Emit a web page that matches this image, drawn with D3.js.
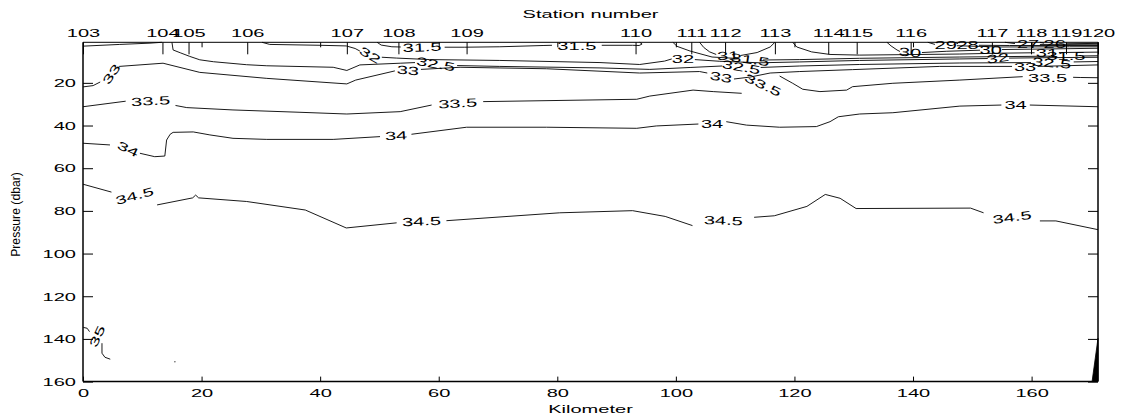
<!DOCTYPE html>
<html><head><meta charset="utf-8">
<script src="https://cdn.jsdelivr.net/npm/d3@7"></script>
<style>
body{margin:0;background:#fff;}
svg{display:block;font-family:"Liberation Sans",Arial,Helvetica,sans-serif;}
</style></head><body>
<svg id="chart" width="1127" height="416"></svg>
<script>
// ---------- axis data ----------
const kmTicks=[0,20,40,60,80,100,120,140,160];
const pressureTicks=[20,40,60,80,100,120,140,160];
const stationNames=["103","104","105","106","107","108","109","110","111","112","113","114","115","116","117","118","119","120"];
const stationKm=[0,13.4,17.8,27.7,44.5,53.2,64.7,93.2,102.6,108.3,116.7,125.7,130.5,139.6,153.3,159.9,165.8,171.2];
const kmMax=171.2, pTop=1, pBottom=160;

// ---------- salinity contours: pieces of [km, dbar]; labels [km, dbar, angle] ----------
const s34_5=[
 [[0,67.5],[4.8,71.2]],
 [[12.5,77.2],[18.5,73.9],[19.0,72.6],[19.5,73.9],[27.6,75.6],[37.5,79.6],[44.4,88.0],[52.9,85.6]],
 [[61.3,84.6],[80.4,80.9],[92.7,79.9],[98.2,82.6],[102.8,86.9]],
 [[113.2,83.0],[116.6,82.3],[122.1,77.9],[125.2,72.3],[127.7,74.1],[130.4,78.9],[149.7,78.7],[151.9,80.9]],
 [[161.4,84.7],[164.1,84.7],[171.2,88.8]]];
const l34_5=[[8.7,73.0,-15],[57.1,84.9,-2],[108.0,84.5,2],[156.7,83.0,-8]];

const s34=[
 [[0,48.3],[4.55,49.1]],
 [[9.6,53.0],[12.1,54.6],[13.8,54.3],[14.1,46.8],[14.7,44.1],[15.2,43.2],[18.6,43.0],[21.4,44.4],[25.3,46.0],[31.0,46.5],[42.2,46.5],[50.1,45.2]],
 [[55.4,44.1],[64.7,40.8],[78.2,40.8],[93.4,41.3],[96.7,40.2],[103.8,39.3]],
 [[108.5,38.2],[111.9,39.8],[117.5,40.8],[123.7,40.5],[126.0,38.2],[127.4,35.9],[131.0,34.6],[136.6,34.0],[147.9,30.9],[154.9,30.4]],
 [[159.7,30.4],[171.2,31.2]]];
const l34=[[7.6,51.0,25],[52.8,44.7,-3],[106.1,39.0,0],[157.3,30.4,0]];

const s33_5=[
 [[0,31.2],[7.2,28.6]],
 [[15.6,30.6],[17.5,31.6],[25.3,32.7],[36.6,33.8],[44.5,34.6],[53.5,33.5],[58.8,30.4]],
 [[67.5,28.8],[93.4,27.7],[95.6,26.2],[102.9,23.4],[106.3,24.1],[111.1,24.9]],
 [[117.5,16.8],[119.7,20.2],[121.4,23.0],[124.3,24.1],[128.8,23.4],[129.8,21.8],[136.6,20.2],[147.9,18.7],[158.5,17.1]],
 [[167.0,17.4],[168.3,17.5],[171.2,17.6]]];
const l33_5=[[11.4,28.5,-3],[63.2,29.6,-3],[114.7,21.0,25],[162.7,17.5,0]];

const s33=[
 [[0,21.9],[1.7,21.3],[2.9,19.6]],
 [[6.1,12.3],[13.5,10.8],[19.7,15.1],[31.0,17.9],[44.5,20.5],[46.0,18.7],[52.6,14.4]],
 [[57.0,13.7],[63.6,12.7],[78.2,13.4],[93.9,15.4],[104.0,14.7],[105.3,15.4]],
 [[109.8,18.2],[112.5,17.3],[115.9,15.4],[120.9,14.7],[129.8,13.8],[144.5,12.3],[156.7,12.3]],
 [[161.0,12.3],[171.2,11.6]]];
const l33=[[4.8,15.9,-55],[54.8,14.2,5],[107.6,17.3,10],[158.9,12.6,0]];

const s32_5=[
 [[15.0,1.0],[15.2,4.6],[16.4,5.9],[18.0,7.6],[19.7,9.2],[22.0,10.1],[27.6,11.5],[31.0,12.0],[42.2,12.7],[44.5,14.2],[46.7,11.6],[53.5,10.8],[56.0,10.5]],
 [[63.1,11.9],[70.3,12.3],[87.2,13.0],[95.6,13.7],[102.4,12.8],[107.8,12.1]],
 [[114.3,12.8],[120.9,12.1],[131.0,11.4],[147.9,10.7],[159.9,10.5]],
 [[167.1,10.2],[171.2,10.0]]];
const l32_5=[[59.5,11.2,10],[111.0,12.6,10],[163.4,10.7,5]];

const s32_5w=[[[0,2.8],[6.2,2.0],[11.3,1.4],[13.3,1.0]]];
const l32_5w=[];

const s32=[
 [[30.2,1.0],[31.5,2.0],[40.0,2.4],[44.4,2.7],[45.9,3.9],[46.7,5.1]],
 [[50.4,8.0],[52.9,8.4],[58.5,9.1],[70.3,9.5],[87.2,10.5],[93.9,11.4],[98.1,9.8],[99.3,8.8]],
 [[103.2,9.1],[107.4,9.9],[114.2,10.6],[120.9,10.2],[131.0,9.5],[147.9,8.8],[152.6,8.6]],
 [[156.2,8.4],[163.1,8.2],[171.2,8.0]]];
const l32=[[48.4,7.0,30],[101.2,8.6,0],[154.3,8.4,-8]];

const s31_5=[
 [[49.6,1.0],[50.3,2.3],[52.1,3.1],[53.6,3.2]],
 [[61.0,3.3],[64.4,3.3],[70.3,3.1],[77.6,2.5],[79.1,2.4]],
 [[87.5,2.4],[92.7,2.4],[93.8,2.5],[94.3,1.8],[93.9,1.0]]];
const l31_5=[[57.2,3.3,-2],[83.3,2.9,0]];

const s31_5e=[
 [[99.5,1.0],[100.2,2.9],[102.4,5.1],[106.1,7.9],[110.5,8.6]],
 [[114.7,9.3],[120.9,9.1],[131.0,8.5],[147.9,7.9],[163.1,7.5]],
 [[168.5,7.4],[171.2,7.3]]];
const l31_5e=[[112.5,9.1,8],[165.8,7.5,0]];

const s31a=[
 [[104.0,1.0],[104.7,3.4],[105.7,5.5],[106.8,6.7]],
 [[110.9,7.2],[113.7,5.8],[115.9,3.2],[116.7,1.0]]];
const l31a=[[108.8,7.2,-3]];

const s31b=[
 [[119.7,1.0],[120.4,3.2],[122.9,5.5],[126.0,6.7],[131.0,7.0],[137.8,6.8],[147.9,6.5],[154.6,6.1],[160.5,5.9]],
 [[164.6,5.8],[171.2,5.6]]];
const l31b=[[162.6,5.9,0]];

const s30=[
 [[135.6,1.0],[136.3,2.7],[137.3,4.6],[137.8,5.3]],
 [[141.5,5.8],[145.7,5.2],[151.3,4.7]],
 [[155.0,4.4],[171.2,3.8]]];
const l30=[[139.5,5.7,5],[153.1,4.5,0]];

const s29=[[[142.5,1.0],[143.7,2.0]],[[147.4,2.6],[154.6,3.2],[166.4,3.1],[171.2,3.1]]];
const l29=[[145.5,2.4,0]];
const s28=[[[147.0,1.0],[147.6,1.7]],[[151.1,2.4],[156.3,2.5],[171.2,2.5]]];
const l28=[[149.2,2.2,0]];
const s27=[[[155.5,1.0],[157.2,1.6]],[[161.4,2.0],[171.2,1.9]]];
const l27=[[159.4,1.9,0]];
const s26=[[[161.4,1.0],[162.1,1.4]],[[165.8,1.7],[171.2,1.5]]];
const l26=[[163.9,1.6,0]];

const s35=[[[0.05,134.6],[0.7,135.0],[1.1,136.6]],[[3.2,142.0],[3.2,146.7],[3.7,148.6],[4.6,149.5]]];
const l35=[[2.4,138.8,-65]];

const tinyContour=[[15.5,150.7]];
const bottomWedge=[[171.2,139.7],[170.2,160],[171.2,160]];

const contours=[
 {level:"34.5",pieces:s34_5,labels:l34_5},
 {level:"34",pieces:s34,labels:l34},
 {level:"33.5",pieces:s33_5,labels:l33_5},
 {level:"33",pieces:s33,labels:l33},
 {level:"32.5",pieces:s32_5,labels:l32_5},
 {level:"32.5",pieces:s32_5w,labels:l32_5w},
 {level:"32",pieces:s32,labels:l32},
 {level:"31.5",pieces:s31_5,labels:l31_5},
 {level:"31.5",pieces:s31_5e,labels:l31_5e},
 {level:"31",pieces:s31a,labels:l31a},
 {level:"31",pieces:s31b,labels:l31b},
 {level:"30",pieces:s30,labels:l30},
 {level:"29",pieces:s29,labels:l29},
 {level:"28",pieces:s28,labels:l28},
 {level:"27",pieces:s27,labels:l27},
 {level:"26",pieces:s26,labels:l26},
 {level:"35",pieces:s35,labels:l35}
];

// ---------- drawing ----------
const SX=1.7, FS=11.8;
const svg=d3.select("#chart");
const x=d3.scaleLinear().domain([0,kmMax]).range([83,1098]);
const y=d3.scaleLinear().domain([pTop,pBottom]).range([42.3,381.6]);
const line=d3.line().x(d=>x(d[0])).y(d=>y(d[1]));

const gC=svg.append("g");
contours.forEach(c=>{
  gC.selectAll(null).data(c.pieces).enter().append("path")
    .attr("d",line).attr("fill","none").attr("stroke","#000").attr("stroke-width",0.9);
  gC.selectAll(null).data(c.labels).enter().append("text")
    .attr("transform",d=>`translate(${x(d[0])},${y(d[1])}) rotate(${d[2]}) scale(${SX},1)`)
    .attr("text-anchor","middle").attr("dy","0.35em").attr("font-size",FS).attr("fill","#000")
    .text(c.level);
});
gC.selectAll(null).data(tinyContour).enter().append("circle")
  .attr("cx",d=>x(d[0])).attr("cy",d=>y(d[1])).attr("r",0.7).attr("fill","#444");
gC.append("path").datum(bottomWedge).attr("d",d3.line().x(d=>x(d[0])).y(d=>y(d[1])).curve(d3.curveLinearClosed))
  .attr("fill","#000").attr("stroke","#000").attr("stroke-width",0.8);

function styleAxis(g){
  g.attr("font-family",null).attr("font-size",FS).attr("color","#000");
  g.select(".domain").remove();
  g.selectAll(".tick line").attr("stroke-width",1);
}
// bottom km axis
const gB=svg.append("g").attr("transform",`translate(0,${y(pBottom)})`)
  .call(d3.axisBottom(x).tickValues(kmTicks).tickSizeInner(-5).tickSizeOuter(0).tickPadding(7.5));
styleAxis(gB); gB.selectAll("text").attr("transform",`scale(${SX},1)`);
// top mirrored km ticks
const gT=svg.append("g").attr("transform",`translate(0,${y(pTop)})`)
  .call(d3.axisTop(x).tickValues(kmTicks).tickSizeInner(-5).tickSizeOuter(0).tickFormat(""));
styleAxis(gT);
// left pressure axis
const gL=svg.append("g").attr("transform",`translate(${x(0)},0)`)
  .call(d3.axisLeft(y).tickValues(pressureTicks).tickSizeInner(-10).tickSizeOuter(0).tickPadding(7/SX));
styleAxis(gL); gL.selectAll("text").attr("transform",`scale(${SX},1)`);
// right mirrored ticks
const gR=svg.append("g").attr("transform",`translate(${x(kmMax)},0)`)
  .call(d3.axisRight(y).tickValues(pressureTicks).tickSizeInner(-10).tickSizeOuter(0).tickFormat(""));
styleAxis(gR);
// station axis
const gS=svg.append("g").attr("transform",`translate(0,${y(pTop)})`)
  .call(d3.axisTop(x).tickValues(stationKm).tickFormat((d,i)=>stationNames[i]).tickSizeInner(-12).tickSizeOuter(0).tickPadding(5.8));
styleAxis(gS); gS.selectAll("text").attr("transform",`scale(${SX},1)`);

// frame
const fr=svg.append("g").attr("stroke","#000").attr("fill","none");
fr.append("line").attr("x1",x(0)).attr("x2",x(kmMax)).attr("y1",y(pTop)).attr("y2",y(pTop)).attr("stroke-width",1);
fr.append("line").attr("x1",x(0)).attr("x2",x(kmMax)).attr("y1",y(pBottom)).attr("y2",y(pBottom)).attr("stroke-width",1.5);
fr.append("line").attr("x1",x(0)).attr("x2",x(0)).attr("y1",y(pTop)).attr("y2",y(pBottom)).attr("stroke-width",1.5);
fr.append("line").attr("x1",x(kmMax)).attr("x2",x(kmMax)).attr("y1",y(pTop)).attr("y2",y(pBottom)).attr("stroke-width",1.5);

// titles
const cx=(x(0)+x(kmMax))/2;
svg.append("text").attr("transform",`translate(${cx},18) scale(${SX},1)`).attr("text-anchor","middle")
  .attr("font-size",FS).text("Station number");
svg.append("text").attr("transform",`translate(${cx},413) scale(${SX},1)`).attr("text-anchor","middle")
  .attr("font-size",FS).text("Kilometer");
svg.append("text").attr("transform",`translate(19.5,214.5) rotate(-90)`).attr("text-anchor","middle")
  .attr("font-size",12.2).text("Pressure (dbar)");
</script>
</body></html>
